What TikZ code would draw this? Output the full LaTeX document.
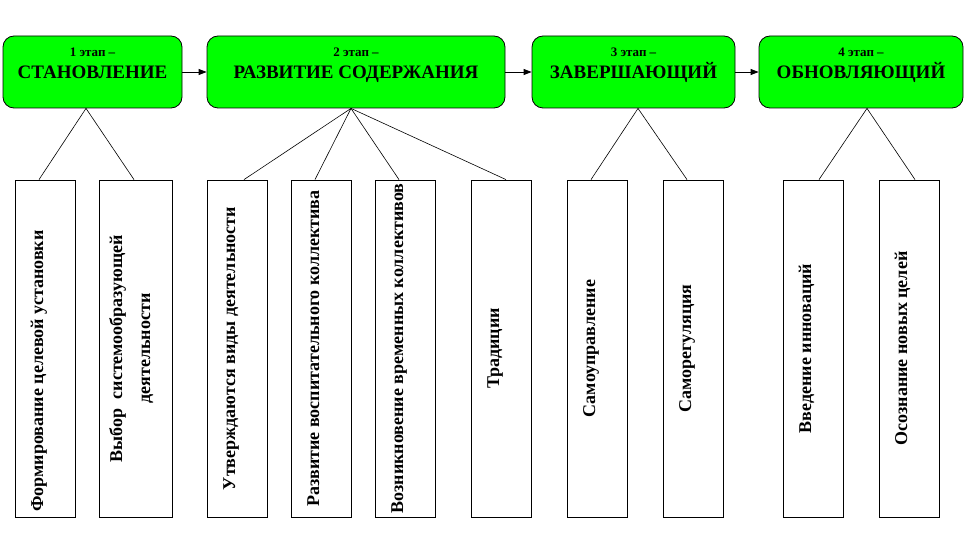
\documentclass[tikz,border=0pt]{standalone}
\usepackage{fontspec}
\setmainfont{Liberation Serif}
\usetikzlibrary{arrows.meta,calc}
\definecolor{stagegreen}{HTML}{00FF00}
\begin{document}
\begin{tikzpicture}[x=1pt,y=-1pt,
  stage/.style={draw=black, line width=0.8pt, fill=stagegreen, rounded corners=11pt, inner sep=0pt,
    minimum height=72pt, font=\fontsize{19}{21}\selectfont\bfseries, text height=12.6pt, text depth=0pt},
  stagenum/.style={inner sep=0pt, anchor=base, font=\fontsize{13}{15}\selectfont\bfseries},
  item/.style={draw=black, line width=0.8pt, fill=white, inner sep=0pt, minimum width=60pt, minimum height=337pt},
  itemtext/.style={rotate=90, anchor=north, inner sep=0pt, font=\fontsize{18}{21}\selectfont\bfseries, text height=12pt},
  flow/.style={line width=0.8pt, -{Triangle[length=8pt,width=6pt]}},
  link/.style={line width=0.6pt}
]
\useasboundingbox (0,0) rectangle (966,540);

% stages
\node[stage, minimum width=179pt] (s1) at (92.5,72) {СТАНОВЛЕНИЕ};
\node[stage, minimum width=298pt] (s2) at (356,72) {РАЗВИТИЕ СОДЕРЖАНИЯ};
\node[stage, minimum width=203pt] (s3) at (633.5,72) {ЗАВЕРШАЮЩИЙ};
\node[stage, minimum width=204pt] (s4) at (861,72) {ОБНОВЛЯЮЩИЙ};
\node[stagenum] (n1) at (92.5,57) {1 этап –};
\node[stagenum] (n2) at (356,57) {2 этап –};
\node[stagenum] (n3) at (633.5,57) {3 этап –};
\node[stagenum] (n4) at (861,57) {4 этап –};

\draw[flow] (s1) -- (s2);
\draw[flow] (s2) -- (s3);
\draw[flow] (s3) -- (s4);

% items
\node[item] (a) at (45,348.5) {};
\node[item, minimum width=73pt] (b) at (135.5,348.5) {};
\node[item] (c) at (237,348.5) {};
\node[item] (d) at (321,348.5) {};
\node[item] (e) at (405,348.5) {};
\node[item] (f) at (501,348.5) {};
\node[item] (g) at (597,348.5) {};
\node[item] (h) at (693,348.5) {};
\node[item] (i) at (813,348.5) {};
\node[item] (j) at (909,348.5) {};

\node[itemtext] (ta) at (31,371) {Формирование целевой установки};
\node[itemtext] (tb1) at (110,348.5) {Выбор \ системообразующей};
\node[itemtext] (tb2) at (138,348.5) {деятельности};
\node[itemtext] (tc) at (223,348.5) {Утверждаются виды деятельности};
\node[itemtext] (td) at (307,348.5) {Развитие воспитательного коллектива};
\node[itemtext] (te) at (391,348.5) {Возникновение временных коллективов};
\node[itemtext] (tf) at (487,348.5) {Традиции};
\node[itemtext] (tg) at (583,348.5) {Самоуправление};
\node[itemtext] (th) at (679,348.5) {Саморегуляция};
\node[itemtext] (ti) at (799,348.5) {Введение инноваций};
\node[itemtext] (tj) at (895,348.5) {Осознание новых целей};

% links
\draw[link] ([xshift=-6.5pt]s1.south) -- ([xshift=-6pt]a.north);
\draw[link] ([xshift=-6.5pt]s1.south) -- ([xshift=-1.5pt]b.north);
\draw[link] ([xshift=-5pt]s2.south) -- ([xshift=7pt]c.north);
\draw[link] ([xshift=-5pt]s2.south) -- ([xshift=-6pt]d.north);
\draw[link] ([xshift=-5pt]s2.south) -- ([xshift=-6pt]e.north);
\draw[link] ([xshift=-5pt]s2.south) -- ([xshift=5pt]f.north);
\draw[link] ([xshift=4.5pt]s3.south) -- ([xshift=-6pt]g.north);
\draw[link] ([xshift=4.5pt]s3.south) -- ([xshift=-6pt]h.north);
\draw[link] ([xshift=6pt]s4.south) -- ([xshift=6pt]i.north);
\draw[link] ([xshift=6pt]s4.south) -- ([xshift=6pt]j.north);
\end{tikzpicture}
\end{document}
